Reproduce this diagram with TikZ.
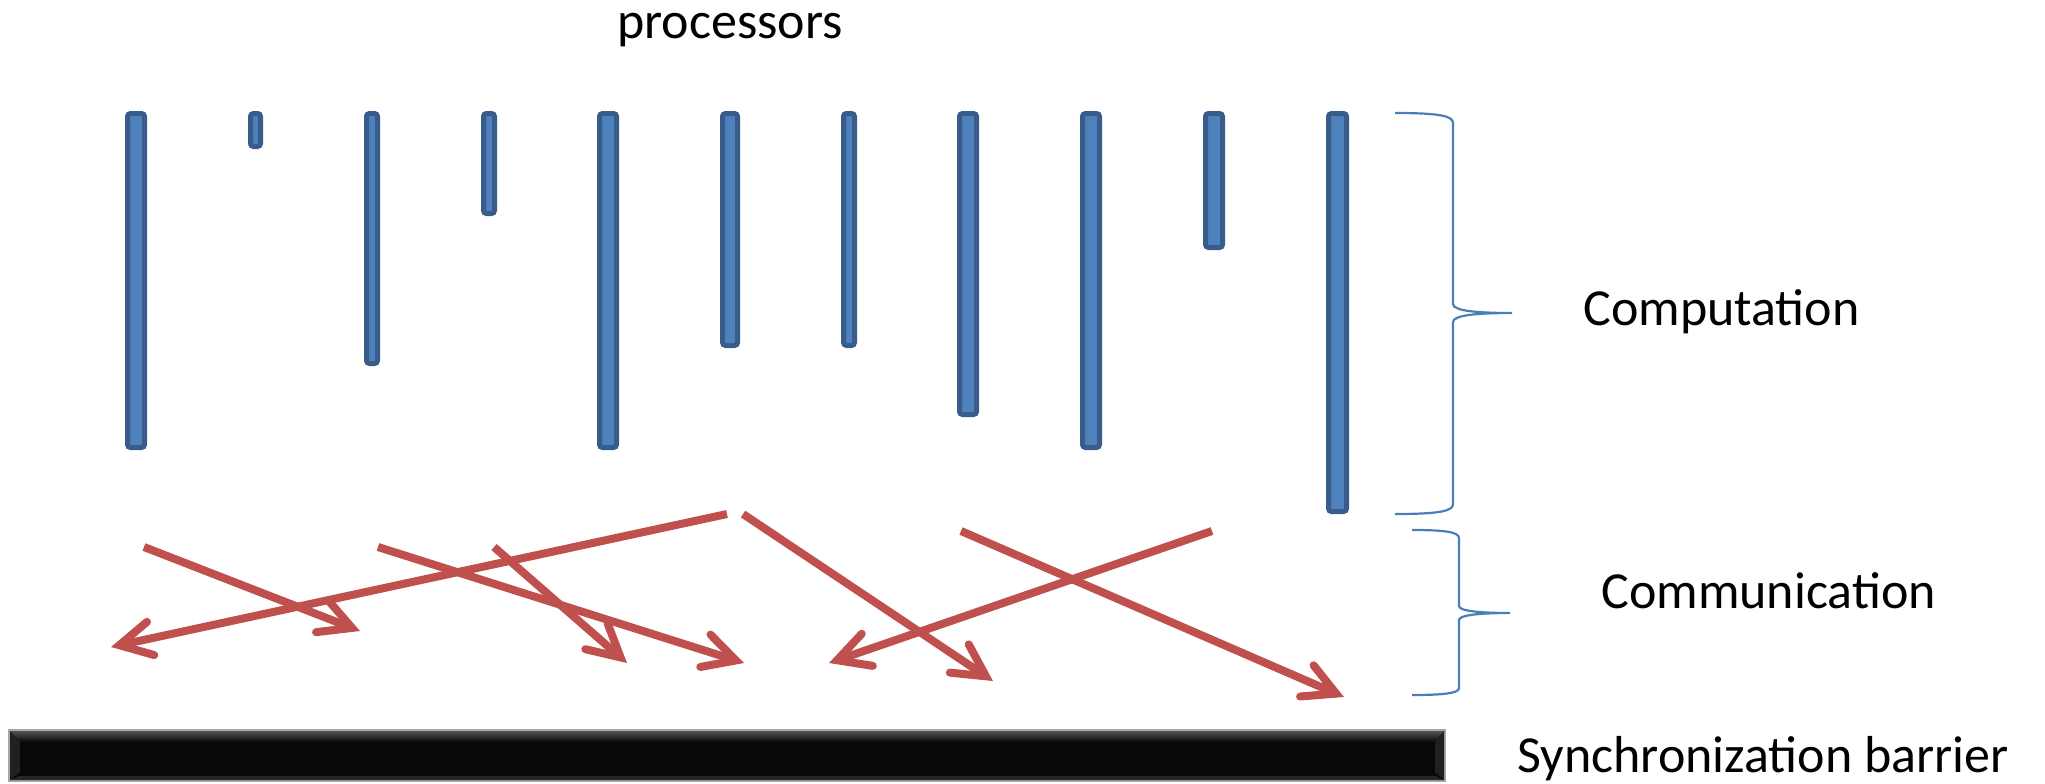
\documentclass[tikz,border=0pt]{standalone}
\usepackage{fontspec}
\setmainfont{Carlito}
\usetikzlibrary{arrows.meta}
\definecolor{barfill}{HTML}{4F81BD}
\definecolor{barline}{HTML}{385D8A}
\definecolor{msgred}{HTML}{C0504D}
\definecolor{bracecol}{HTML}{4A7EBB}
\begin{document}
\begin{tikzpicture}[x=0.5pt,y=-0.5pt,
  procbar/.style={draw=barline, fill=barfill, line width=2.5pt, rounded corners=1.5pt,
                  inner sep=0pt, outer sep=0pt},
  msgarrow/.style={draw=msgred, line width=4pt,
                   -{Straight Barb[length=16pt,width=17pt,line cap=round,line join=miter]}},
  bracepath/.style={draw=bracecol, line width=1.1pt},
  legendtext/.style={font=\fontsize{26pt}{31pt}\selectfont, inner sep=0pt}]
\useasboundingbox (0,0) rectangle (2045,783);

% processor work bars: index / centre x / outer width / bottom y
\foreach \i/\x/\w/\b in {1/136/22/450, 2/255.5/15/149, 3/372/16/366, 4/489/16/216,
                         5/608/22/450, 6/730/20/348, 7/849/16/348, 8/968/22/417,
                         9/1091/22/450, 10/1214/22/250, 11/1337.5/23/514}
  \node[procbar, minimum width={(\w-5)*0.5pt}, minimum height={(\b-116)*0.5pt}]
    (p\i) at (\x,{(111+\b)/2}) {};

% message end points
\coordinate (a1s) at (144,547);  \coordinate (a1e) at (360,631);
\coordinate (a2s) at (727,514);  \coordinate (a2e) at (111,647);
\coordinate (a3s) at (378,547);  \coordinate (a3e) at (744,663);
\coordinate (a4s) at (494,547);  \coordinate (a4e) at (627,663);
\coordinate (a5s) at (743,514);  \coordinate (a5e) at (993,681);
\coordinate (a6s) at (1212,531); \coordinate (a6e) at (829,663);
\coordinate (a7s) at (961,531);  \coordinate (a7e) at (1344,697);

\foreach \k in {1,...,7}
  \draw[msgarrow] (a\k s) -- (a\k e);

% braces
\draw[bracepath] (1395,113) .. controls (1440,113) and (1453,116) .. (1453,123)
  -- (1453,304) .. controls (1453,311) and (1478,313) .. (1512,313)
  .. controls (1478,313) and (1453,315) .. (1453,322)
  -- (1453,504) .. controls (1453,511) and (1440,514) .. (1395,514);
\draw[bracepath] (1412,530) .. controls (1445,530) and (1459,532) .. (1459,538)
  -- (1459,606) .. controls (1459,611) and (1480,613) .. (1510,613)
  .. controls (1480,613) and (1459,615) .. (1459,620)
  -- (1459,688) .. controls (1459,693) and (1445,695) .. (1412,695);

% synchronization barrier with bevelled edges
\path[fill=black!97, draw=gray!70, line width=0.6pt] (9,730) rectangle (1445,781);
\shade[top color=gray!65!black, bottom color=black!97]
  (10,731) -- (1444,731) -- (1435,742) -- (20,742) -- cycle;
\fill[gray!25!black] (10,731) -- (20,742) -- (20,772) -- (10,780) -- cycle;
\fill[gray!25!black] (1444,731) -- (1435,742) -- (1435,772) -- (1444,780) -- cycle;
\fill[gray!30!black] (10,780) -- (20,776) -- (1435,776) -- (1444,780) -- cycle;

% labels
\node[legendtext, anchor=base] (proc) at (730,38) {processors};
\node[legendtext, anchor=base west] (comp) at (1583,325) {Computation};
\node[legendtext, anchor=base west] (comm) at (1601,608) {Communication};
\node[legendtext, anchor=base west] (sync) at (1517,772) {Synchronization barrier};
\end{tikzpicture}
\end{document}
